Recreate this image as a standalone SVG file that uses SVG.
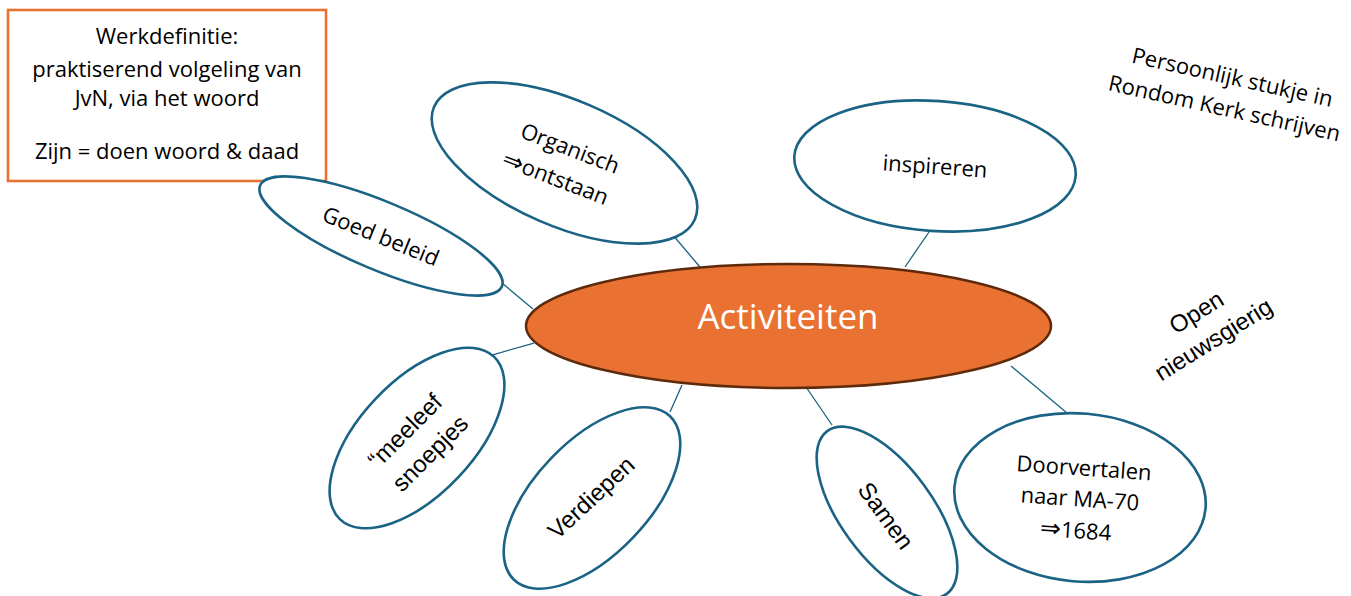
<svg xmlns="http://www.w3.org/2000/svg" width="1351" height="596" viewBox="0 0 1351 596">
<style>
.bub{fill:#ffffff;stroke:#1A6384;stroke-width:2.6}
.conn line{stroke:#1A6384;stroke-width:1.3}
.ap{font-family:"Open Sans","Liberation Sans",sans-serif;font-size:22px;fill:#000;text-anchor:middle}
.ar{font-family:"Liberation Sans",Arial,sans-serif;font-size:24px;fill:#000;text-anchor:middle}
.arr{font-family:"DejaVu Sans",sans-serif;font-size:25px}
</style>
<rect width="1351" height="596" fill="#ffffff"/>
<g id="connectors" class="conn">
<line x1="502" y1="283" x2="533" y2="309"/>
<line x1="672" y1="234" x2="700" y2="267"/>
<line x1="929" y1="232" x2="905" y2="267"/>
<line x1="492" y1="355" x2="534" y2="343"/>
<line x1="670" y1="412" x2="682" y2="385"/>
<line x1="804" y1="384" x2="832" y2="425"/>
<line x1="1011" y1="366" x2="1067" y2="413"/>
</g>
<g id="werkdefinitie">
<rect x="8" y="10" width="318" height="171" fill="#ffffff" stroke="#E97132" stroke-width="2.6"/>
<text class="ap" x="167" y="44">Werkdefinitie:</text>
<text class="ap" x="167" y="77">praktiserend volgeling van</text>
<text class="ap" x="167" y="106">JvN, via het woord</text>
<text class="ap" x="167" y="159">Zijn = doen woord &amp; daad</text>
</g>
<g id="activiteiten">
<ellipse cx="788.5" cy="326" rx="262.5" ry="62" fill="#E97132" stroke="#5E2A0C" stroke-width="2.5"/>
<text x="788" y="329" font-family="Open Sans, Liberation Sans, sans-serif" font-size="35" fill="#ffffff" text-anchor="middle">Activiteiten</text>
</g>
<g id="goed-beleid" transform="translate(381,236) rotate(22.7)">
<ellipse class="bub" cx="0" cy="0" rx="131" ry="34"/>
<text class="ap" x="0" y="8" font-size="22.5" transform="rotate(-0.7)">Goed beleid</text>
</g>
<g id="organisch" transform="translate(564.5,163) rotate(23.3)">
<ellipse class="bub" cx="0" cy="0" rx="142" ry="63"/>
<g transform="rotate(-2.3)">
<text class="ap" x="0" y="-8">Organisch</text>
<text class="ap" x="-3" y="25"><tspan class="arr">⇒</tspan>ontstaan</text>
</g>
</g>
<g id="inspireren" transform="translate(935,166) rotate(4)">
<ellipse class="bub" cx="0" cy="0" rx="141" ry="65"/>
<text class="ap" x="0" y="8">inspireren</text>
</g>
<g id="persoonlijk" transform="translate(1229,92.5) rotate(12.5)">
<text class="ap" x="0" y="-8">Persoonlijk stukje in</text>
<text class="ap" x="-1" y="24">Rondom Kerk schrijven</text>
</g>
<g id="open" transform="translate(1205,326) rotate(-32)">
<text class="ar" x="0" y="-8" font-size="23">Open</text>
<text class="ar" x="0" y="24" font-size="23">nieuwsgierig</text>
</g>
<g id="meeleef">
<ellipse class="bub" cx="0" cy="0" rx="112" ry="57" transform="translate(417,438) rotate(-46.6)"/>
<g transform="translate(417.5,442) rotate(-45)">
<text class="ar" x="-1" y="-8.5">“meeleef</text>
<text class="ar" x="1" y="25">snoepjes</text>
</g>
</g>
<g id="verdiepen">
<ellipse class="bub" cx="0" cy="0" rx="113" ry="57" transform="translate(592,498) rotate(-46.3)"/>
<text class="ar" x="0" y="8.5" transform="translate(591,497.5) rotate(-43)">Verdiepen</text>
</g>
<g id="samen">
<ellipse class="bub" cx="0" cy="0" rx="101" ry="46" transform="translate(887,512.5) rotate(53.7)"/>
<text class="ar" x="0" y="8.5" transform="translate(886,515.5) rotate(54)">Samen</text>
</g>
<g id="doorvertalen" transform="translate(1080,497.5) rotate(5)">
<ellipse class="bub" cx="0" cy="0" rx="126" ry="84"/>
<g transform="rotate(-1)">
<text class="ap" x="2" y="-22">Doorvertalen</text>
<text class="ap" x="0" y="9">naar MA-70</text>
<text class="ap" x="-2" y="41"><tspan class="arr">⇒</tspan>1684</text>
</g>
</g>
</svg>
